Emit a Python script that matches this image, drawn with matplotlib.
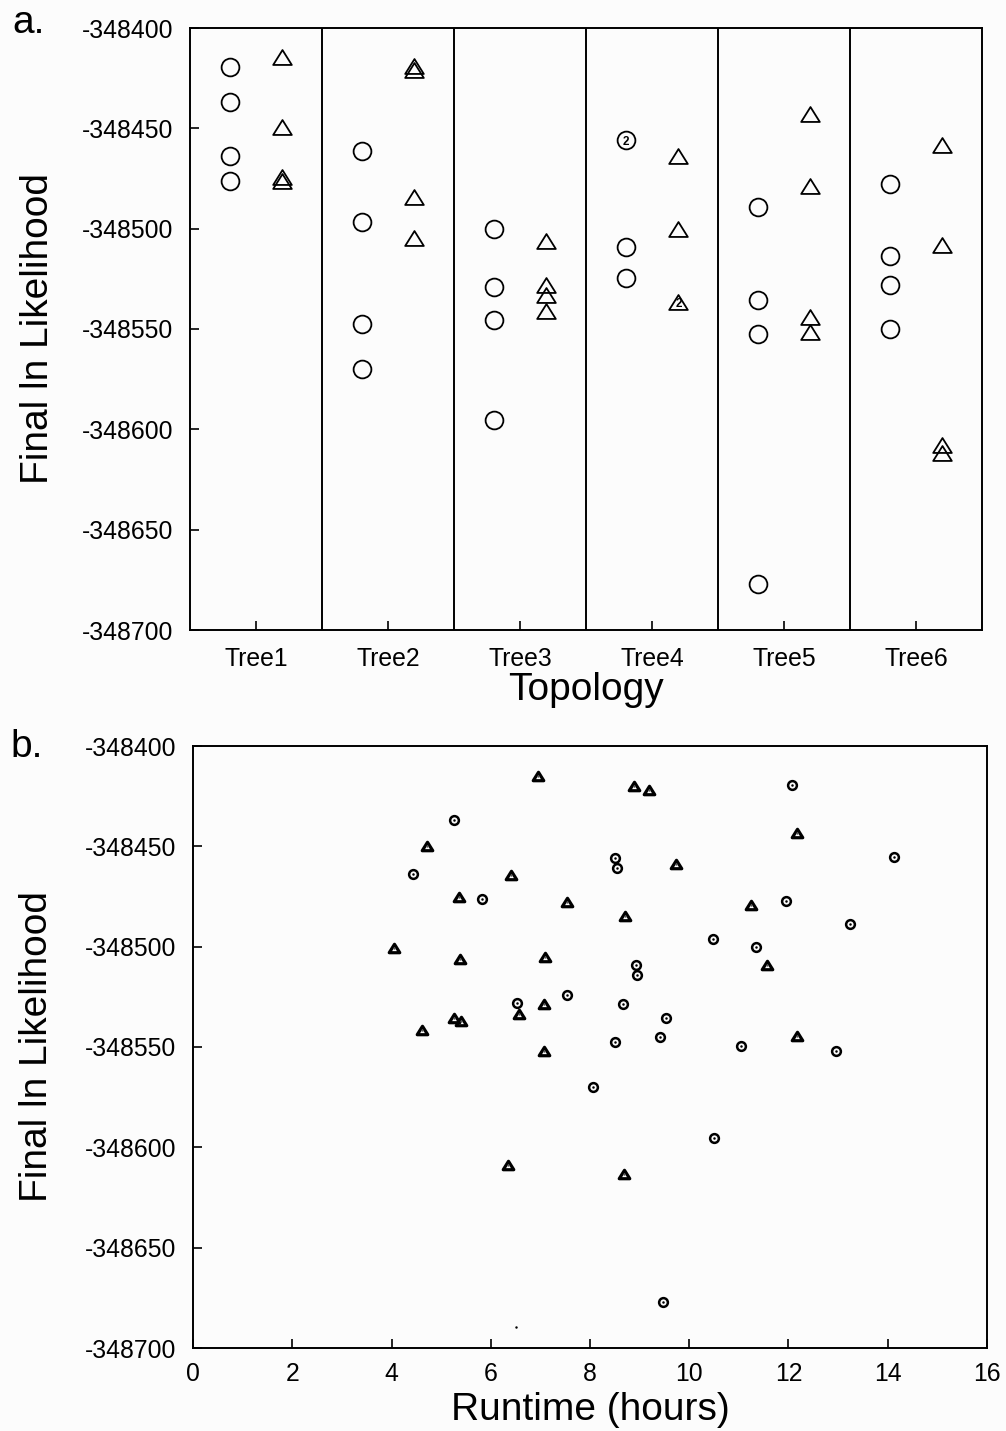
import numpy as np
import matplotlib
matplotlib.use("Agg")
import matplotlib.pyplot as plt
from matplotlib.path import Path
from collections import Counter

plt.rcParams['font.family'] = ['Liberation Sans', 'DejaVu Sans']
plt.rcParams['axes.unicode_minus'] = False

# panel a: final lnL per topology, two series of runs
trees = ["Tree1", "Tree2", "Tree3", "Tree4", "Tree5", "Tree6"]
circle_lnl = [
    [-348419.6, -348436.7, -348463.8, -348476.1],
    [-348461.2, -348496.6, -348547.3, -348569.8],
    [-348500.4, -348529.0, -348545.3, -348595.2],
    [-348455.8, -348455.8, -348509.1, -348524.5],
    [-348489.1, -348535.3, -348552.3, -348677.0],
    [-348477.5, -348513.7, -348528.2, -348549.8],
]
triangle_lnl = [
    [-348414.3, -348449.2, -348474.3, -348476.0],
    [-348419.1, -348420.8, -348484.1, -348504.9],
    [-348506.1, -348528.2, -348533.2, -348541.2],
    [-348463.7, -348500.3, -348536.5, -348536.5],
    [-348442.9, -348478.6, -348544.0, -348551.5],
    [-348458.3, -348508.2, -348608.0, -348611.8],
]

# panel b: runtime (hours) vs final lnL
circle_runtime = [5.26, 4.44, 5.82, 7.53, 6.52, 12.08, 8.51, 8.55, 14.13, 11.94,
                  13.23, 10.47, 11.35, 8.93, 8.95, 8.67, 9.54, 8.51, 9.42, 11.05,
                  12.95, 8.07, 10.49, 9.48]
circle_final = [-348436.9, -348464.0, -348476.1, -348524.3, -348528.0, -348419.4,
                -348455.7, -348461.0, -348455.5, -348477.1, -348488.9, -348496.4,
                -348500.2, -348509.2, -348513.9, -348528.8, -348535.4, -348547.4,
                -348545.1, -348549.6, -348552.0, -348569.8, -348595.3, -348677.2]
triangle_runtime = [6.96, 4.72, 6.41, 5.37, 7.53, 4.05, 5.38, 7.09, 7.08, 6.57,
                    5.25, 5.40, 4.62, 7.07, 8.89, 9.18, 12.18, 9.74, 11.25, 8.70,
                    11.56, 12.18, 6.35, 8.68]
triangle_final = [-348414.8, -348449.7, -348464.3, -348475.0, -348477.6, -348500.5,
                  -348506.2, -348505.0, -348528.5, -348533.6, -348535.6, -348536.8,
                  -348541.4, -348551.8, -348419.8, -348422.1, -348443.2, -348458.8,
                  -348479.0, -348484.6, -348509.2, -348544.4, -348608.6, -348613.1]
stray_point = (6.51, -348689.5)

ytick_vals = [-348400, -348450, -348500, -348550, -348600, -348650, -348700]
xtick_vals = [0, 2, 4, 6, 8, 10, 12, 14, 16]

tri = Path([(0, 0.8), (-1, -0.8), (1, -0.8), (0, 0.8)],
           [Path.MOVETO, Path.LINETO, Path.LINETO, Path.CLOSEPOLY])

bg = '#fcfcfc'
fig = plt.figure(figsize=(10.06, 14.31), dpi=100, facecolor=bg)
ax1 = fig.add_axes([190/1006, 1-630/1431, 792/1006, 602/1431], facecolor=bg)
ax2 = fig.add_axes([193/1006, 1-1348/1431, 794/1006, 602/1431], facecolor=bg)

for ax in (ax1, ax2):
    for s in ax.spines.values():
        s.set_linewidth(1.4)
    ax.tick_params(direction='in', length=6.5, width=1.2, labelsize=17.8, pad=12,
                   top=False, right=False)
    ax.set_ylim(-348700, -348400)
    ax.set_yticks(ytick_vals)
    ax.set_yticklabels([str(v) for v in ytick_vals])
    ax.set_ylabel("Final ln Likelihood", fontsize=28, va='center')

# ---- panel a
pos = np.arange(1, len(trees) + 1)
for i, p in enumerate(pos):
    for vals, dx, mk, sz in ((circle_lnl[i], -0.2, 'o', 12.8), (triangle_lnl[i], 0.2, tri, 13.4)):
        counts = Counter(vals)
        for v, n in counts.items():
            ax1.plot(p + dx, v, marker=mk, ms=sz, mfc='none', mec='black',
                     mew=1.3, ls='none')
            if n > 1:
                ax1.text(p + dx, v - 0.8, str(n), fontsize=8.5, fontweight='bold',
                         ha='center', va='center')
for b in pos[:-1] + 0.5:
    ax1.axvline(b, color='black', lw=1.4)
ax1.set_xlim(0.5, len(trees) + 0.5)
ax1.set_xticks(pos)
ax1.set_xticklabels(trees)
ax1.tick_params(axis='x', pad=12)
ax1.set_xlabel("Topology", fontsize=28, va='baseline')
ax1.xaxis.set_label_coords(0.5, -0.116)
ax1.yaxis.set_label_coords(-0.192, 0.5)

# ---- panel b
ax2.plot(circle_runtime, circle_final, 'o', ms=6.3, mfc='none', mec='black', mew=1.8)
ax2.plot(circle_runtime, circle_final, '.', ms=1.6, color='black')
ax2.plot(triangle_runtime, triangle_final, marker=tri, ls='none', ms=7.6,
         mfc='none', mec='black', mew=2.3)
ax2.plot(triangle_runtime, triangle_final, '.', ms=1.4, color='#555555')
ax2.plot(*stray_point, '.', ms=1.5, color='black')
ax2.set_xlim(0, 16)
ax2.set_xticks(xtick_vals)
ax2.set_xticklabels([str(v) for v in xtick_vals])
ax2.tick_params(axis='x', pad=10)
ax2.set_xlabel("Runtime (hours)", fontsize=28, va='baseline')
ax2.xaxis.set_label_coords(0.5, -0.1196)
ax2.yaxis.set_label_coords(-0.196, 0.5)

fig.text(12/1006, 1-33/1431, "a.", fontsize=28, va='baseline')
fig.text(10/1006, 1-757/1431, "b.", fontsize=28, va='baseline')

fig.savefig("out.png", dpi=100, facecolor=bg)
